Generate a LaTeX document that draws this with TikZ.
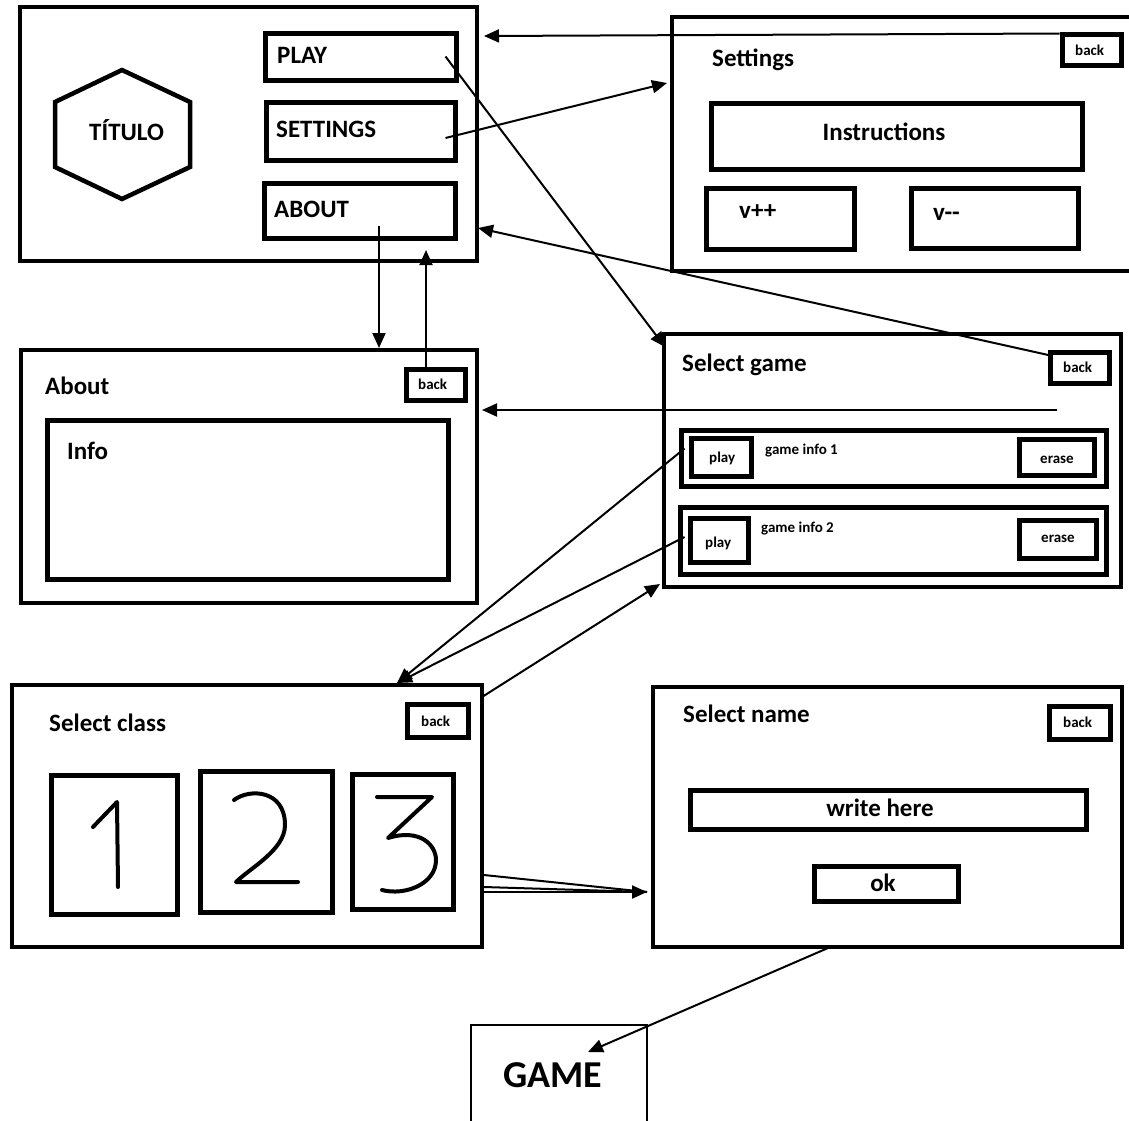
\documentclass[tikz,border=0pt]{standalone}
\usepackage{fontspec}
\setmainfont{Carlito}
\usetikzlibrary{arrows.meta,fit}
\begin{document}
\begin{tikzpicture}[x=1pt,y=-1pt,
  panel/.style={draw, line width=4pt, inner sep=0pt},
  btn/.style={draw, line width=5pt, inner sep=0pt},
  title/.style={font=\fontsize{25}{29}\selectfont\bfseries, anchor=base west, inner sep=0pt},
  label/.style={font=\fontsize{25}{29}\selectfont\bfseries, anchor=base, inner sep=0pt},
  small/.style={font=\fontsize{15}{18}\selectfont\bfseries, anchor=base west, inner sep=0pt},
  link/.style={line width=2pt, -{Triangle[length=15pt,width=13pt]}},
  wire/.style={line width=2pt},
  digit/.style={line width=4pt, line cap=round, line join=round}]
\useasboundingbox (0,0) rectangle (1129,1120);

% ---------- main menu ----------
\node[panel, fit={(20,7) (477,261)}] (menu) {};
\draw[line width=4.5pt, line join=miter]
  (122,70) -- (190,102) -- (190,167) -- (122,199) -- (55,167) -- (55,102) -- cycle;
\node[title] (titulo) at (89,140) {TÍTULO};
\node[btn, fit={(265,33) (456,80)}] (playbtn) {};
\node[title] (playtxt) at (277,63) {PLAY};
\node[btn, fit={(266,102) (455,160)}] (setbtn) {};
\node[title] (settxt) at (276,137) {SETTINGS};
\node[btn, fit={(264,183) (455,238)}] (aboutbtn) {};
\node[title] (abouttxt) at (274,217) {ABOUT};

% ---------- settings ----------
\draw[line width=4pt] (1129,17) -- (672,17) -- (672,271) -- (1129,271);
\node[inner sep=0pt, fit={(672,17) (1129,271)}] (settings) {};
\node[title] (settitle) at (712,66) {Settings};
\node[btn, fit={(1062,34) (1121,65)}] (setback) {};
\node[small] (setbacktxt) at (1075,55) {back};
\node[btn, fit={(711,103) (1082,169)}] (instr) {};
\node[label] (instrtxt) at (884,140) {Instructions};
\node[btn, fit={(706,188) (854,249)}] (vup) {};
\node[title] (vuptxt) at (739,218) {v++};
\node[btn, fit={(911,188) (1078,248)}] (vdown) {};
\node[title] (vdowntxt) at (933,220) {v{-}{-}};

% ---------- about ----------
\node[panel, fit={(21,350) (477,603)}] (about) {};
\node[title] (abouttitle) at (45,394) {About};
\node[btn, fit={(406,369) (465,400)}] (aboutback) {};
\node[small] (aboutbacktxt) at (418,389) {back};
\node[btn, fit={(47,420) (448,579)}] (info) {};
\node[title] (infotxt) at (67,459) {Info};

% ---------- select game ----------
\node[panel, fit={(664,334) (1121,587)}] (selgame) {};
\node[title] (sgtitle) at (682,371) {Select game};
\node[btn, fit={(1050,352) (1109,383)}] (sgback) {};
\node[small] (sgbacktxt) at (1063,372) {back};
\node[btn, fit={(681,430) (1106,486)}] (row1) {};
\node[btn, fit={(691,438) (751,476)}] (play1) {};
\node[small] (play1txt) at (709,462) {play};
\node[small] (info1) at (765,454) {game info 1};
\node[btn, fit={(1019,439) (1094,475)}] (erase1) {};
\node[small] (erase1txt) at (1040,463) {erase};
\node[btn, fit={(680,507) (1106,574)}] (row2) {};
\node[btn, fit={(690,518) (748,562)}] (play2) {};
\node[small] (play2txt) at (705,547) {play};
\node[small] (info2) at (761,532) {game info 2};
\node[btn, fit={(1019,520) (1096,558)}] (erase2) {};
\node[small] (erase2txt) at (1041,542) {erase};

% ---------- select class ----------
\node[panel, fit={(12,685) (482,947)}] (selclass) {};
\node[title] (sctitle) at (49,731) {Select class};
\node[btn, fit={(407,704) (468,737)}] (scback) {};
\node[small] (scbacktxt) at (421,726) {back};
\node[btn, fit={(51,775) (177,914)}] (class1) {};
\node[btn, fit={(200,771) (332,912)}] (class2) {};
\node[btn, fit={(352,774) (453,909)}] (class3) {};
% hand-drawn digits
\draw[digit] (93,827) -- (117,802) -- (118,887);
\draw[digit] (234,800) .. controls (250,788) and (285,790) .. (285,825)
  .. controls (285,850) and (250,868) .. (236,882) -- (298,882);
\draw[digit] (377,797) -- (432,797) -- (388,838)
  .. controls (420,828) and (436,845) .. (436,860)
  .. controls (436,884) and (405,896) .. (382,890);

% ---------- select name ----------
\node[panel, fit={(653,687) (1122,947)}] (selname) {};
\node[title] (sntitle) at (683,722) {Select name};
\node[btn, fit={(1049,706) (1110,739)}] (snback) {};
\node[small] (snbacktxt) at (1063,727) {back};
\node[btn, fit={(690,790) (1086,829)}] (writebox) {};
\node[label] (writetxt) at (880,816) {write here};
\node[btn, fit={(814,866) (958,901)}] (okbtn) {};
\node[label] (oktxt) at (883,891) {ok};

% ---------- game ----------
\draw[line width=1.5pt] (471,1121) -- (471,1025) -- (647,1025) -- (647,1121);
\node[inner sep=0pt, fit={(471,1025) (647,1120)}] (game) {};
\node[font=\fontsize{38}{44}\selectfont\bfseries, anchor=base, inner sep=0pt] (gametxt) at (553,1087) {GAME};

% ---------- connector ends ----------
\coordinate (menuTop) at (484,36);
\coordinate (menuSide) at (478,228);
\coordinate (setIn) at (667,83);
\coordinate (sgCorner) at (665,347);
\coordinate (sgLine) at (1057,410);
\coordinate (aboutSide) at (482,410);
\coordinate (aboutTop) at (379,348);
\coordinate (aboutStart) at (379,226);
\coordinate (menuBottom) at (426,250);
\coordinate (classTop) at (397,683);
\coordinate (classOut) at (482,697);
\coordinate (sgBottom) at (660,584);
\coordinate (nameIn) at (647,892);
\coordinate (nameOut) at (828,948);
\coordinate (gameIn) at (588,1052);

% ---------- connectors ----------
\draw[link] ([yshift=-2pt]setback.north west) -- (menuTop);
\draw[link] ([xshift=-13pt]playbtn.east) -- (sgCorner);
\draw[link] ([xshift=-12pt,yshift=-7pt]setbtn.east) -- (setIn);
\draw[link] ([xshift=3pt,yshift=-6pt]sgback.north west) -- (menuSide);
\draw[link] (aboutStart) -- (aboutTop);
\draw[link] (aboutback.north -| menuBottom) -- (menuBottom);
\draw[link] (sgLine) -- (aboutSide);
\draw[link] ([xshift=-4pt,yshift=-13pt]play1.north west) -- (classTop);
\draw[link] ([xshift=-3pt,yshift=3pt]play2.west) -- (classTop);
\draw[link] (classOut) -- (sgBottom);
\draw[wire] (selclass.east |- 0,875) -- (nameIn);
\draw[wire] (selclass.east |- 0,887) -- (nameIn);
\draw[link] (selclass.east |- 0,892) -- (nameIn);
\draw[link] (nameOut) -- (gameIn);
\end{tikzpicture}
\end{document}
